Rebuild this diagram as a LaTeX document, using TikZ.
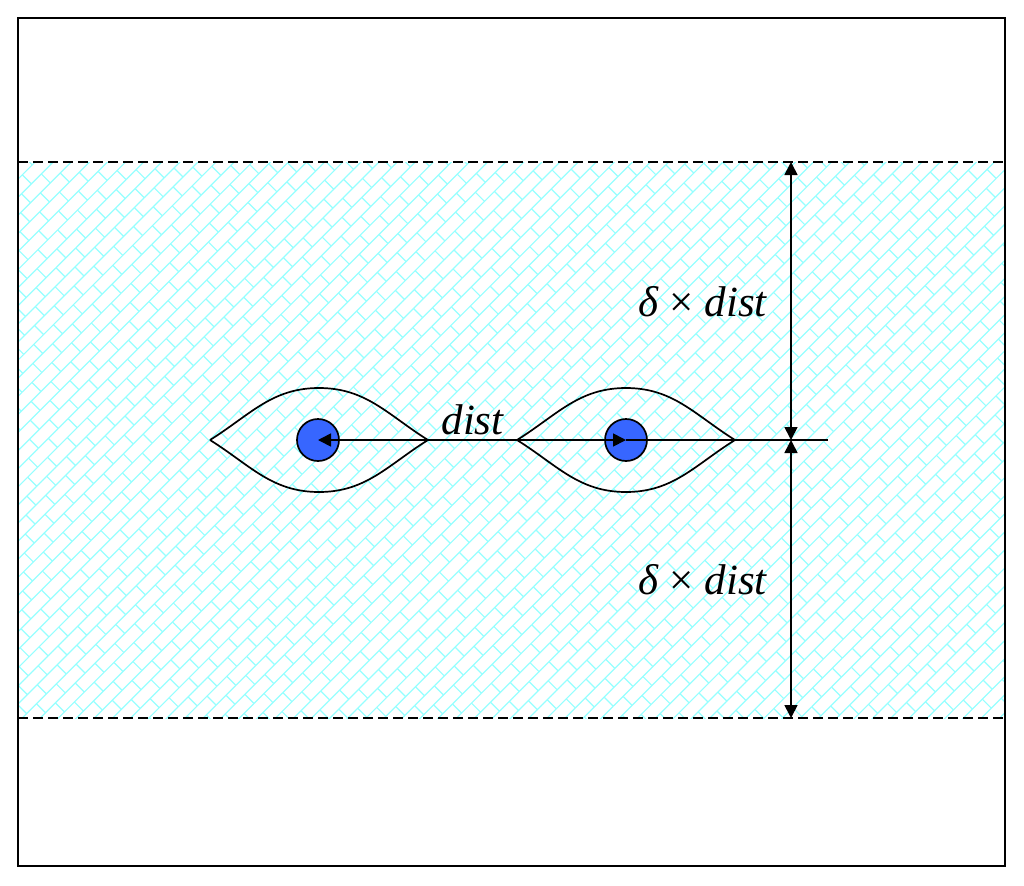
\documentclass[tikz,border=0pt]{standalone}
\usepackage{fontspec}
\setmainfont{Liberation Serif}
\usetikzlibrary{arrows.meta,patterns.meta}

\definecolor{hatchcyan}{RGB}{150,255,255}
\definecolor{dotblue}{RGB}{55,102,255}

\tikzdeclarepattern{
  name=diagbricks,
  type=uncolored,
  bottom left={(-.5pt,-.5pt)},
  top right={(14.5pt,13.3pt)},
  tile size={(14pt,12.8pt)},
  tile transformation={rotate=45},
  code={
    \draw[line width=.6pt] (0,0) -- (14pt,0) (0,6.4pt) -- (14pt,6.4pt)
      (0,0) -- (0,6.4pt) (7pt,6.4pt) -- (7pt,12.8pt);
  }
}

\begin{document}
\begin{tikzpicture}[
        x=0.5pt, y=-0.5pt,
        frame/.style={line width=1pt},
        border/.style={line width=1pt, dash pattern=on 5pt off 2.5pt},
        lens/.style={line width=0.85pt},
        dot/.style={circle, draw, line width=0.85pt, fill=dotblue, minimum size=21pt, inner sep=0pt},
        arr/.style={line width=0.85pt, -{Triangle[length=6.5pt,width=6.5pt]}},
        dim/.style={line width=0.85pt, {Triangle[length=6.5pt,width=6.5pt]}-{Triangle[length=6.5pt,width=6.5pt]}},
        lbl/.style={font=\fontsize{21.5}{24}\selectfont}
      ]
      \useasboundingbox (0,0) rectangle (1024,885);
      \fill[pattern=diagbricks, pattern color=hatchcyan] (18,162) rectangle (1005,718);
      \draw[frame] (18,18) rectangle (1005,866);
      \draw[border] (18,162) -- (1005,162);
      \draw[border] (18,718) -- (1005,718);

      % lenses
      \coordinate (lw) at (210,440);
      \coordinate (le) at (428,440);
      \coordinate (rw) at (517,440);
      \coordinate (re) at (735,440);
      \coordinate (rend) at (828,440);
      \draw[lens] (lw) to[out=32,in=180] (319,388) to[out=0,in=148] (le)
                  to[out=-148,in=0] (319,492) to[out=180,in=-32] (lw);
      \draw[lens] (rw) to[out=32,in=180] (626,388) to[out=0,in=148] (re)
                  to[out=-148,in=0] (626,492) to[out=180,in=-32] (rw);
      \node[dot] (lc) at (318,440) {};
      \node[dot] (rc) at (626,440) {};

      % distances
      \draw[lens] (le) -- (rw);
      \draw[arr] (le) -- (lc.center);
      \draw[arr] (rw) -- (rc.center);
      \draw[lens] (rc.center) -- (rend);
      \coordinate (dtop) at (791,162);
      \coordinate (dmid) at (791,440);
      \coordinate (dbot) at (791,718);
      \draw[dim] (dtop) -- (dmid);
      \draw[dim] (dbot) -- (dmid);

      \node[lbl] (dlbl) at (473,420) {\textit{dist}};
      \node[lbl] (uplbl) at (703,302) {\textit{δ} × \textit{dist}};
      \node[lbl] (lowlbl) at (703,580) {\textit{δ} × \textit{dist}};
    \end{tikzpicture}
\end{document}
